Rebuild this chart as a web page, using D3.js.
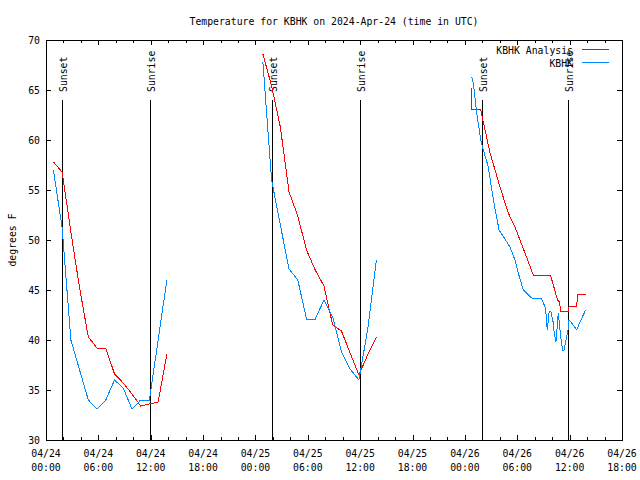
<!DOCTYPE html>
<html>
<head>
<meta charset="utf-8">
<script src="https://cdn.jsdelivr.net/npm/d3@7"></script>
<style>
  html, body { margin: 0; padding: 0; background: #fff; }
  svg { display: block; }
  text { font-family: "DejaVu Sans Mono", "Liberation Mono", monospace; font-size: 9.8px; fill: #000; }
</style>
</head>
<body>
<svg id="chart" width="640" height="480"></svg>
<script>
// ---------------- DATA ----------------
const titleText = "Temperature for KBHK on 2024-Apr-24 (time in UTC)";
const yLabelText = "degrees F";
const seriesNames = ["KBHK Analysis", "KBHK"];

const xTickTimes = ["2024-04-24T00:00","2024-04-24T06:00","2024-04-24T12:00","2024-04-24T18:00",
                    "2024-04-25T00:00","2024-04-25T06:00","2024-04-25T12:00","2024-04-25T18:00",
                    "2024-04-26T00:00","2024-04-26T06:00","2024-04-26T12:00","2024-04-26T18:00"];
const xTickLabels = [["04/24","00:00"],["04/24","06:00"],["04/24","12:00"],["04/24","18:00"],
                     ["04/25","00:00"],["04/25","06:00"],["04/25","12:00"],["04/25","18:00"],
                     ["04/26","00:00"],["04/26","06:00"],["04/26","12:00"],["04/26","18:00"]];
const yTicks = [30, 35, 40, 45, 50, 55, 60, 65, 70];

const sunsetTimes  = ["2024-04-24T01:52","2024-04-25T01:52","2024-04-26T01:55"];
const sunriseTimes = ["2024-04-24T11:57","2024-04-25T11:57","2024-04-26T11:51"];

// KBHK Analysis (red); null temp = gap
const analysis = [
  ["2024-04-24T00:51",57.8],["2024-04-24T01:51",56.8],["2024-04-24T02:51",50.8],["2024-04-24T03:51",45.2],
  ["2024-04-24T04:51",40.3],["2024-04-24T05:51",39.2],["2024-04-24T06:51",39.2],["2024-04-24T07:51",36.6],
  ["2024-04-24T08:51",35.7],["2024-04-24T09:51",34.6],["2024-04-24T10:51",33.4],["2024-04-24T11:51",33.6],
  ["2024-04-24T12:51",33.8],["2024-04-24T13:51",38.6],
  ["2024-04-24T18:00",null],
  ["2024-04-25T00:51",68.6],["2024-04-25T01:51",65.4],["2024-04-25T02:51",61.3],["2024-04-25T03:51",54.8],
  ["2024-04-25T04:51",52.4],["2024-04-25T05:51",49.0],["2024-04-25T06:51",47.0],["2024-04-25T07:51",45.4],
  ["2024-04-25T08:51",41.5],["2024-04-25T09:51",40.9],["2024-04-25T10:51",38.7],["2024-04-25T11:51",36.5],
  ["2024-04-25T12:51",38.5],["2024-04-25T13:51",40.3],
  ["2024-04-25T18:00",null],
  ["2024-04-26T00:47",65.2],["2024-04-26T00:48",63.1],["2024-04-26T01:49",63.1],["2024-04-26T01:56",62.5],
  ["2024-04-26T02:53",58.7],["2024-04-26T04:01",55.3],["2024-04-26T04:58",52.7],["2024-04-26T05:44",51.3],
  ["2024-04-26T06:53",48.7],["2024-04-26T07:50",46.5],["2024-04-26T09:50",46.4],["2024-04-26T10:37",44.0],
  ["2024-04-26T10:50",43.8],["2024-04-26T10:59",42.9],["2024-04-26T11:51",42.9],["2024-04-26T11:56",43.3],
  ["2024-04-26T12:49",43.4],["2024-04-26T12:55",44.6],["2024-04-26T13:50",44.6]
];

// KBHK observations (blue)
const observed = [
  ["2024-04-24T00:51",57.0],["2024-04-24T01:51",51.2],["2024-04-24T02:51",40.0],["2024-04-24T03:51",37.0],
  ["2024-04-24T04:51",34.0],["2024-04-24T05:51",33.1],["2024-04-24T06:51",34.0],["2024-04-24T07:51",36.0],
  ["2024-04-24T08:51",35.2],["2024-04-24T09:51",33.1],["2024-04-24T10:51",34.0],["2024-04-24T11:51",34.0],
  ["2024-04-24T12:51",40.0],["2024-04-24T13:51",46.0],
  ["2024-04-24T18:00",null],
  ["2024-04-25T00:51",67.8],["2024-04-25T01:51",56.0],["2024-04-25T02:51",51.5],["2024-04-25T03:51",47.1],
  ["2024-04-25T04:51",46.0],["2024-04-25T05:51",42.1],["2024-04-25T06:51",42.1],["2024-04-25T07:51",44.0],
  ["2024-04-25T08:51",42.3],["2024-04-25T09:51",38.8],["2024-04-25T10:51",37.1],["2024-04-25T11:51",36.0],
  ["2024-04-25T12:51",41.0],["2024-04-25T13:51",48.0],
  ["2024-04-25T18:00",null],
  ["2024-04-26T00:47",66.3],["2024-04-26T00:58",65.7],["2024-04-26T01:21",62.7],["2024-04-26T01:49",60.0],
  ["2024-04-26T02:07",59.0],["2024-04-26T02:41",57.3],["2024-04-26T03:08",54.7],["2024-04-26T03:32",52.7],
  ["2024-04-26T03:55",51.0],["2024-04-26T04:35",50.1],["2024-04-26T05:10",49.3],["2024-04-26T05:44",48.0],
  ["2024-04-26T06:07",46.7],["2024-04-26T06:41",45.0],["2024-04-26T07:39",44.2],["2024-04-26T08:48",44.1],
  ["2024-04-26T09:11",43.3],["2024-04-26T09:17",42.7],["2024-04-26T09:26",41.0],["2024-04-26T09:40",42.9],
  ["2024-04-26T09:50",42.9],["2024-04-26T10:08",41.7],["2024-04-26T10:14",40.7],["2024-04-26T10:26",39.8],
  ["2024-04-26T10:42",42.7],["2024-04-26T10:59",40.3],["2024-04-26T11:12",39.0],["2024-04-26T11:21",39.0],
  ["2024-04-26T11:40",40.3],["2024-04-26T11:51",41.2],["2024-04-26T11:56",42.0],["2024-04-26T12:14",41.7],
  ["2024-04-26T12:49",41.0],["2024-04-26T13:11",41.8],["2024-04-26T13:50",43.0]
];

// ---------------- DRAW ----------------
const parse = s => new Date(s + ":00Z");
const L = 46, R = 622, T = 40, B = 440;
const svg = d3.select("#chart");

const x = d3.scaleUtc()
  .domain([parse("2024-04-24T00:00"), parse("2024-04-26T18:00")])
  .range([L, R]);
const y = d3.scaleLinear().domain([30, 70]).range([B, T]);

const g = svg.append("g").attr("shape-rendering", "crispEdges");

// minor ticks (every 2 hours)
const minorTimes = d3.utcHour.every(2).range(x.domain()[0], x.domain()[1]);
const major = xTickTimes.map(parse);

function styleAxis(sel) {
  sel.select(".domain").remove();
  sel.selectAll(".tick line").attr("stroke", "#000");
  sel.selectAll(".tick text").remove();
}

g.append("g").attr("transform", `translate(0,${B})`)
  .call(d3.axisBottom(x).tickValues(minorTimes).tickSize(-3).tickFormat(""))
  .call(styleAxis);
g.append("g").attr("transform", `translate(0,${T})`)
  .call(d3.axisTop(x).tickValues(minorTimes).tickSize(-3).tickFormat(""))
  .call(styleAxis);
g.append("g").attr("transform", `translate(0,${B})`)
  .call(d3.axisBottom(x).tickValues(major).tickSize(-5).tickFormat(""))
  .call(styleAxis);
g.append("g").attr("transform", `translate(0,${T})`)
  .call(d3.axisTop(x).tickValues(major).tickSize(-5).tickFormat(""))
  .call(styleAxis);
g.append("g").attr("transform", `translate(${L},0)`)
  .call(d3.axisLeft(y).tickValues(yTicks).tickSize(-5).tickFormat(""))
  .call(styleAxis);
g.append("g").attr("transform", `translate(${R},0)`)
  .call(d3.axisRight(y).tickValues(yTicks).tickSize(-5).tickFormat(""))
  .call(styleAxis);

// x labels
const xl = svg.append("g");
major.forEach((t, i) => {
  const tx = xl.append("text").attr("text-anchor", "middle");
  tx.append("tspan").attr("x", x(t)).attr("y", 457).text(xTickLabels[i][0]);
  tx.append("tspan").attr("x", x(t)).attr("y", 471).text(xTickLabels[i][1]);
});
// y labels
svg.append("g").selectAll("text").data(yTicks).join("text")
  .attr("x", 40).attr("y", d => y(d) + 4)
  .attr("text-anchor", "end").text(d => d);

// frame
g.append("rect").attr("x", L + 0.5).attr("y", T + 0.5)
  .attr("width", R - L).attr("height", B - T)
  .attr("fill", "none").attr("stroke", "#000");

// title, y label
svg.append("text").attr("x", (L + R) / 2).attr("y", 25)
  .attr("text-anchor", "middle").text(titleText);
svg.append("text").attr("transform", `translate(16,240) rotate(-90)`)
  .attr("text-anchor", "middle").text(yLabelText);

// sunset / sunrise markers
const markers = sunsetTimes.map(t => ({t: parse(t), label: "Sunset"}))
  .concat(sunriseTimes.map(t => ({t: parse(t), label: "Sunrise"})));
markers.forEach(m => {
  const px = Math.round(x(m.t)) + 0.5;
  g.append("line").attr("x1", px).attr("x2", px)
    .attr("y1", y(30 + 0.85 * 40)).attr("y2", B)
    .attr("stroke", "#000");
  svg.append("text").attr("transform", `translate(${px + 4},92) rotate(-90)`)
    .attr("text-anchor", "start").text(m.label);
});

// lines
const line = d3.line()
  .defined(d => d[1] !== null)
  .x(d => x(parse(d[0])))
  .y(d => y(d[1]));

svg.append("path").datum(analysis).attr("d", line)
  .attr("fill", "none").attr("stroke", "#ff0000").attr("stroke-width", 1)
  .attr("shape-rendering", "crispEdges");
svg.append("path").datum(observed).attr("d", line)
  .attr("fill", "none").attr("stroke", "#0088ff").attr("stroke-width", 1)
  .attr("shape-rendering", "crispEdges");

// legend
const legendColors = ["#ff0000", "#0088ff"];
seriesNames.forEach((name, i) => {
  const ly = 49.5 + i * 13;
  svg.append("text").attr("x", 573).attr("y", ly + 4)
    .attr("text-anchor", "end").text(name);
  svg.append("line").attr("x1", 582).attr("x2", 609).attr("y1", ly).attr("y2", ly)
    .attr("stroke", legendColors[i]).attr("shape-rendering", "crispEdges");
});
</script>
</body>
</html>
